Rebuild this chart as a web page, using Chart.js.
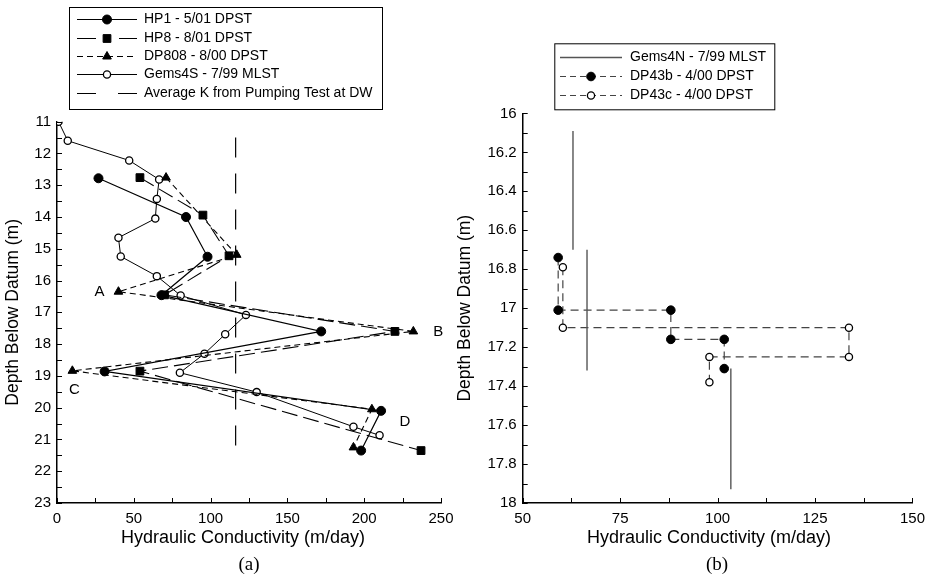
<!DOCTYPE html>
<html lang="en">
<head>
    <meta charset="UTF-8">
    <title>Hydraulic Conductivity Profiles</title>
    <style>
        body {
            margin: 0;
            padding: 0;
            background: #fff;
            font-family: Arial, "Liberation Sans", sans-serif;
        }
        .wrap { position: relative; width: 932px; height: 578px; }
        .panel { position: absolute; top: 0; height: 578px; }
        #panelA { left: 0; width: 470px; }
        #panelB { left: 446px; width: 486px; }
        canvas { display: block; }
        .xtitle {
            position: absolute;
            top: 527px;
            font-size: 18px;
            line-height: 20px;
            white-space: nowrap;
            transform: translateX(-50%);
        }
        .caption {
            position: absolute;
            top: 553px;
            font-family: "Liberation Serif", "Times New Roman", serif;
            font-size: 19px;
            transform: translateX(-50%);
        }
    </style>
</head>
<body>
    <div class="wrap">
        <div class="panel" id="panelA"><canvas id="chartA" width="470" height="578"></canvas></div>
        <div class="panel" id="panelB"><canvas id="chartB" width="486" height="578"></canvas></div>
        <div class="xtitle" style="left:243px">Hydraulic Conductivity (m/day)</div>
        <div class="xtitle" style="left:709px">Hydraulic Conductivity (m/day)</div>
        <div class="caption" style="left:249px">(a)</div>
        <div class="caption" style="left:717px">(b)</div>
    </div>
    <script src="https://cdn.jsdelivr.net/npm/chart.js"></script>
    <script>
        // ---- panel (a): depth (m) vs hydraulic conductivity (m/day) ----
        var hp1K       = [27, 84, 98, 68, 172, 31, 211, 198];
        var hp1Depth   = [12.78, 14.0, 15.25, 16.46, 17.6, 18.86, 20.1, 21.35];

        var hp8K       = [54, 95, 112, 70, 220, 54, 237];
        var hp8Depth   = [12.76, 13.94, 15.22, 16.45, 17.6, 18.85, 21.35];

        var dp808K     = [71, 117, 40, 232, 10, 205, 193];
        var dp808Depth = [12.76, 15.19, 16.35, 17.6, 18.84, 20.05, 21.25];

        var gems4sK     = [1, 7, 47, 66.5, 65, 64, 40, 41.5, 65, 80.5, 123, 109.5, 96, 80, 130, 193, 210];
        var gems4sDepth = [11.0, 11.6, 12.22, 12.82, 13.43, 14.05, 14.65, 15.24, 15.86, 16.47, 17.08, 17.69, 18.3, 18.9, 19.51, 20.6, 20.87];

        var avgK       = 116.3;
        var avgKDepth  = [11.5, 21.5];

        var pointLetters = ['A', 'B', 'C', 'D'];   // attached to DP808 points 2..5

        // ---- panel (b) ----
        var gems4nK      = [62.9, 66.5, 103.4];
        var gems4nTop    = [16.09, 16.70, 17.31];
        var gems4nBottom = [16.70, 17.32, 17.93];

        var dp43bK     = [59.1, 59.1, 88.0, 88.0, 101.7, 101.7];
        var dp43bDepth = [16.74, 17.01, 17.01, 17.16, 17.16, 17.31];

        var dp43cK     = [60.3, 60.3, 133.7, 133.7, 97.9, 97.9];
        var dp43cDepth = [16.79, 17.10, 17.10, 17.25, 17.25, 17.38];

        function pairs(xs, ys) {
            return xs.map(function (v, i) { return { x: v, y: ys[i] }; });
        }

        // separate vertical segments, broken by null points
        function intervals(ks, tops, bottoms) {
            var out = [];
            ks.forEach(function (k, i) {
                out.push({ x: k, y: tops[i] }, { x: k, y: bottoms[i] }, { x: k, y: null });
            });
            return out;
        }

        function drawMarker(ctx, style, r, x, y, fill, stroke, bw) {
            ctx.beginPath();
            if (style === 'rect') {
                var s = r * Math.SQRT1_2;
                ctx.rect(x - s, y - s, 2 * s, 2 * s);
            } else if (style === 'triangle') {
                ctx.moveTo(x, y - r);
                ctx.lineTo(x + r * 0.866, y + r * 0.5);
                ctx.lineTo(x - r * 0.866, y + r * 0.5);
                ctx.closePath();
            } else {
                ctx.arc(x, y, r, 0, Math.PI * 2);
            }
            ctx.fillStyle = fill;
            ctx.fill();
            ctx.lineWidth = bw;
            ctx.strokeStyle = stroke;
            ctx.stroke();
        }

        // legend drawn as a framed box with line samples
        var boxLegend = {
            id: 'boxLegend',
            afterDraw: function (chart, args, o) {
                var ctx = chart.ctx;
                ctx.save();
                ctx.lineWidth = 1;
                ctx.strokeStyle = '#000';
                ctx.strokeRect(o.x + 0.5, o.y + 0.5, o.w, o.h);
                ctx.font = '14px Arial, "Liberation Sans", sans-serif';
                ctx.textBaseline = 'middle';
                chart.data.datasets.forEach(function (ds, i) {
                    var cy = Math.round(o.firstRow + i * o.rowGap) + 0.5;
                    ctx.setLineDash(ds.legendDash || ds.borderDash || []);
                    ctx.strokeStyle = ds.borderColor;
                    ctx.lineWidth = ds.borderWidth;
                    ctx.beginPath();
                    ctx.moveTo(o.lineX0, cy);
                    ctx.lineTo(o.lineX1, cy);
                    ctx.stroke();
                    ctx.setLineDash([]);
                    if (ds.pointRadius > 0) {
                        drawMarker(ctx, ds.pointStyle, ds.pointRadius, (o.lineX0 + o.lineX1) / 2, cy,
                            ds.pointBackgroundColor, ds.pointBorderColor, ds.pointBorderWidth);
                    }
                    ctx.fillStyle = '#000';
                    ctx.fillText(ds.label, o.textX, cy);
                });
                ctx.restore();
            }
        };

        // tick marks pointing into the plot
        var inwardTicks = {
            id: 'inwardTicks',
            afterDraw: function (chart) {
                var ctx = chart.ctx, a = chart.chartArea;
                var xs = chart.scales.x, ys = chart.scales.y;
                ctx.save();
                ctx.strokeStyle = '#000';
                ctx.lineWidth = 1;
                ctx.beginPath();
                xs.ticks.forEach(function (t) {
                    var px = Math.round(xs.getPixelForValue(t.value)) + 0.5;
                    ctx.moveTo(px, a.bottom);
                    ctx.lineTo(px, a.bottom - 5);
                });
                ys.ticks.forEach(function (t) {
                    var py = Math.round(ys.getPixelForValue(t.value)) + 0.5;
                    ctx.moveTo(a.left, py);
                    ctx.lineTo(a.left + 5, py);
                });
                ctx.stroke();
                ctx.restore();
            }
        };

        // letters A-D next to DP808 points
        var pointTags = {
            id: 'pointTags',
            afterDraw: function (chart, args, o) {
                if (!o.letters) return;
                var ctx = chart.ctx;
                var meta = chart.getDatasetMeta(o.datasetIndex);
                ctx.save();
                ctx.font = '15px Arial, "Liberation Sans", sans-serif';
                ctx.fillStyle = '#000';
                ctx.textAlign = 'center';
                ctx.textBaseline = 'middle';
                o.letters.forEach(function (letter, i) {
                    var pt = meta.data[o.firstIndex + i];
                    var off = o.offsets[i];
                    ctx.fillText(letter, pt.x + off[0], pt.y + off[1]);
                });
                ctx.restore();
            }
        };

        var tickFont = { family: 'Arial, "Liberation Sans", sans-serif', size: 15 };
        var titleFont = { family: 'Arial, "Liberation Sans", sans-serif', size: 17.5 };

        function baseScales(xr, yr, xStep, yStep, xLabel, yLabel, yTitlePad) {
            return {
                x: {
                    type: 'linear', min: xr[0], max: xr[1],
                    grid: { display: false, drawTicks: false },
                    border: { display: true, color: '#000', width: 1.5 },
                    ticks: { stepSize: xStep, autoSkip: false, maxRotation: 0, color: '#000',
                             font: tickFont, padding: 7, callback: xLabel },
                    afterFit: function (s) { s.height = 75; }
                },
                y: {
                    type: 'linear', min: yr[0], max: yr[1], reverse: true,
                    grid: { display: false, drawTicks: false },
                    border: { display: true, color: '#000', width: 1.5 },
                    ticks: { stepSize: yStep, autoSkip: false, color: '#000',
                             font: tickFont, padding: 6, callback: yLabel },
                    title: { display: true, text: 'Depth Below Datum (m)', color: '#000',
                             font: titleFont, padding: { top: yTitlePad, bottom: 0 } }
                }
            };
        }

        // ---------------- chart (a) ----------------
        var scalesA = baseScales([0, 250], [11, 23], 25, 0.5,
            function (v) { return v % 50 === 0 ? v : ''; },
            function (v) { return v % 1 === 0 ? v : ''; }, 3);
        scalesA.y.afterFit = function (s) { s.width = 57; };

        new Chart(document.getElementById('chartA'), {
            type: 'scatter',
            data: {
                datasets: [{
                    label: 'HP1 - 5/01 DPST',
                    data: pairs(hp1K, hp1Depth),
                    showLine: true, borderColor: '#000', borderWidth: 1.2,
                    pointStyle: 'circle', pointRadius: 4.5,
                    pointBackgroundColor: '#000', pointBorderColor: '#000', pointBorderWidth: 1
                }, {
                    label: 'HP8 - 8/01 DPST',
                    data: pairs(hp8K, hp8Depth),
                    showLine: true, borderColor: '#000', borderWidth: 1.1, borderDash: [16, 6],
                    legendDash: [19, 23],
                    pointStyle: 'rect', pointRadius: 5.5,
                    pointBackgroundColor: '#000', pointBorderColor: '#000', pointBorderWidth: 1
                }, {
                    label: 'DP808 - 8/00 DPST',
                    data: pairs(dp808K, dp808Depth),
                    showLine: true, borderColor: '#000', borderWidth: 1.1, borderDash: [6, 4],
                    pointStyle: 'triangle', pointRadius: 5,
                    pointBackgroundColor: '#000', pointBorderColor: '#000', pointBorderWidth: 1
                }, {
                    label: 'Gems4S - 7/99 MLST',
                    data: pairs(gems4sK, gems4sDepth),
                    showLine: true, borderColor: '#000', borderWidth: 1,
                    pointStyle: 'circle', pointRadius: 3.6,
                    pointBackgroundColor: '#fff', pointBorderColor: '#000', pointBorderWidth: 1.3
                }, {
                    label: 'Average K from Pumping Test at DW',
                    data: [{ x: avgK, y: avgKDepth[0] }, { x: avgK, y: avgKDepth[1] }],
                    showLine: true, borderColor: '#000', borderWidth: 1.2, borderDash: [20, 16],
                    legendDash: [19, 22],
                    pointRadius: 0
                }]
            },
            options: {
                animation: false,
                responsive: false,
                maintainAspectRatio: false,
                layout: { padding: { top: 121.7, right: 29, bottom: 0, left: 0 } },
                scales: scalesA,
                plugins: {
                    legend: { display: false },
                    tooltip: { enabled: false },
                    boxLegend: { x: 69, y: 7, w: 313, h: 102, firstRow: 19.3, rowGap: 18.35,
                                 lineX0: 77, lineX1: 137, textX: 144 },
                    pointTags: { letters: pointLetters, datasetIndex: 2, firstIndex: 2,
                                 offsets: [[-19, 0], [25, 0], [2, 19], [33, 13]] }
                }
            },
            plugins: [boxLegend, inwardTicks, pointTags]
        });

        // ---------------- chart (b) ----------------
        var scalesB = baseScales([50, 150], [16, 18], 12.5, 0.1,
            function (v) { return v % 25 === 0 ? v : ''; },
            function (v) { var n = Math.round(v * 10); return n % 2 === 0 ? String(n / 10) : ''; }, 9);
        scalesB.y.afterFit = function (s) { s.width = 76.7; };

        new Chart(document.getElementById('chartB'), {
            type: 'scatter',
            data: {
                datasets: [{
                    label: 'Gems4N - 7/99 MLST',
                    data: intervals(gems4nK, gems4nTop, gems4nBottom),
                    showLine: true, spanGaps: false, borderColor: '#555', borderWidth: 1.4,
                    legendDash: [], pointRadius: 0
                }, {
                    label: 'DP43b - 4/00 DPST',
                    data: pairs(dp43bK, dp43bDepth),
                    showLine: true, borderColor: '#444', borderWidth: 1.2, borderDash: [8, 5],
                    legendDash: [6, 4],
                    pointStyle: 'circle', pointRadius: 4.3,
                    pointBackgroundColor: '#000', pointBorderColor: '#000', pointBorderWidth: 1
                }, {
                    label: 'DP43c - 4/00 DPST',
                    data: pairs(dp43cK, dp43cDepth),
                    showLine: true, borderColor: '#444', borderWidth: 1.2, borderDash: [8, 5],
                    legendDash: [6, 4],
                    pointStyle: 'circle', pointRadius: 3.6,
                    pointBackgroundColor: '#fff', pointBorderColor: '#000', pointBorderWidth: 1.3
                }]
            },
            options: {
                animation: false,
                responsive: false,
                maintainAspectRatio: false,
                layout: { padding: { top: 113.4, right: 19, bottom: 0, left: 0 } },
                scales: scalesB,
                plugins: {
                    legend: { display: false },
                    tooltip: { enabled: false },
                    boxLegend: { x: 108.3, y: 43.3, w: 220, h: 66, firstRow: 57, rowGap: 19.2,
                                 lineX0: 114, lineX1: 176, textX: 184 }
                }
            },
            plugins: [boxLegend, inwardTicks]
        });
    </script>
</body>
</html>
